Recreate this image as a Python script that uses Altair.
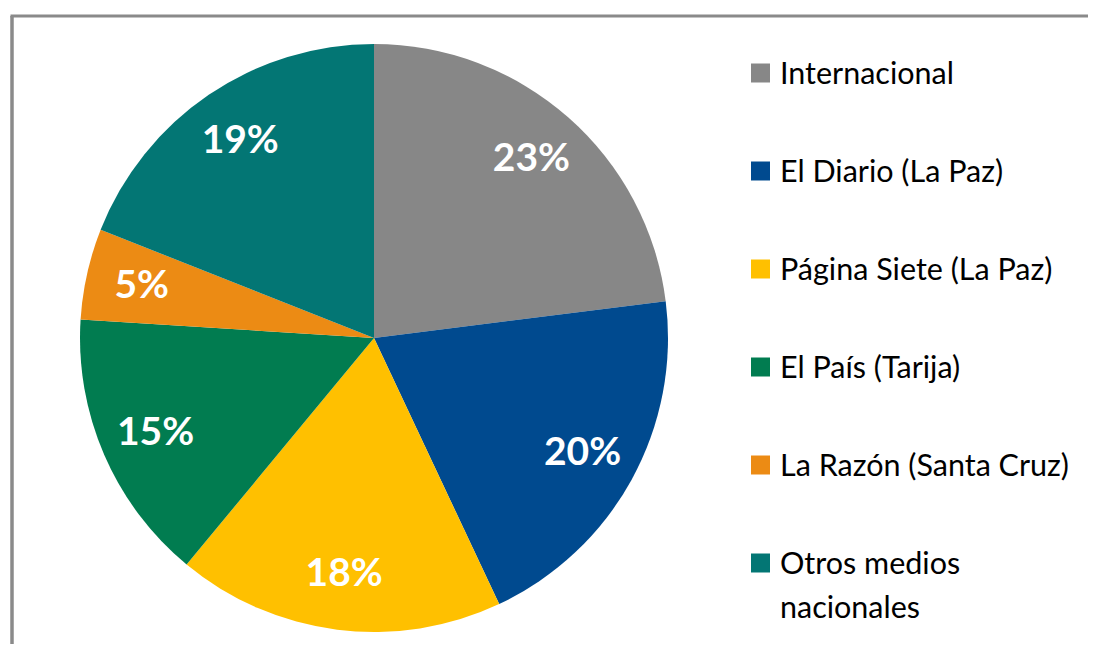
import altair as alt
import pandas as pd

categories = ["Internacional", "El Diario (La Paz)", "Página Siete (La Paz)",
              "El País (Tarija)", "La Razón (Santa Cruz)", "Otros medios nacionales"]
legend_text = ["Internacional", "El Diario (La Paz)", "Página Siete (La Paz)",
               "El País (Tarija)", "La Razón (Santa Cruz)", "Otros medios\nnacionales"]
values = [23, 20, 18, 15, 5, 19]
colors = ["#878787", "#004A8F", "#FFC000", "#017C50", "#EC8B14", "#037674"]

df = pd.DataFrame({
    "cat": categories,
    "leg": legend_text,
    "val": values,
    "ord": list(range(len(categories))),
    "lab": [f"{v}%" for v in values],
})

W, H = 1080, 636
CX, CY, R = 366, 330, 294

color = alt.Color("cat:N", scale=alt.Scale(domain=categories, range=colors), legend=None)
theta = alt.Theta("val:Q", stack=True)
order = alt.Order("ord:Q")

base = alt.Chart(df)

pie = base.mark_arc(outerRadius=R).encode(
    theta=theta, color=color, order=order,
    x=alt.value(CX), y=alt.value(CY),
)

labels = base.mark_text(font="Lato", fontWeight="bold", fontSize=39, color="white",
                        align="center", baseline="middle").encode(
    theta=theta, order=order, text="lab:N",
    radius=alt.value(238),
    x=alt.value(CX), y=alt.value(CY),
)

yleg = alt.Y("cat:N", sort=categories, axis=None,
             scale=alt.Scale(type="point", range=[65, 555], padding=0))

leg_sq = base.mark_square(size=361, opacity=1).encode(
    x=alt.value(752.5), y=yleg, color=color,
)

leg_txt = base.mark_text(font="Lato", fontSize=30.5, color="#000000", align="left",
                         baseline="alphabetic", dy=11, lineBreak="\n",
                         lineHeight=44).encode(
    x=alt.value(772), y=yleg, text="leg:N",
)

frame_df = pd.DataFrame({"a": [0]})
frame_left = alt.Chart(frame_df).mark_rule(color="#8a8a8a", strokeWidth=3.5).encode(
    x=alt.value(4), y=alt.value(8), y2=alt.value(H),
)
frame_top = alt.Chart(frame_df).mark_rule(color="#8a8a8a", strokeWidth=3).encode(
    x=alt.value(2.5), x2=alt.value(W), y=alt.value(8),
)

chart = alt.layer(frame_left, frame_top, pie, labels, leg_sq, leg_txt).properties(
    width=W, height=H, autosize=alt.AutoSizeParams(type="none"), padding=0,
    background="white",
).configure_view(strokeWidth=0)

chart.save("out.html", embed_options={"renderer": "svg", "actions": False})
